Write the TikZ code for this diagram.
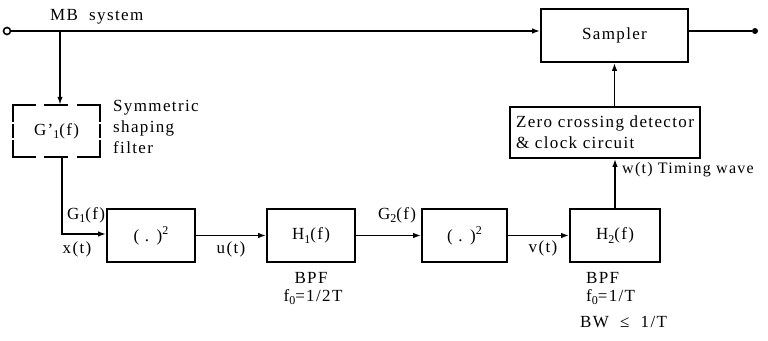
\documentclass[tikz,border=0pt]{standalone}
\usepackage{fontspec}
\setmainfont{Liberation Serif}[LetterSpace=8]
\usetikzlibrary{arrows.meta}
\newcommand\sbs[1]{\raisebox{-0.45ex}{\fontsize{12}{12}\selectfont #1}}
\newcommand\sps[1]{\raisebox{0.9ex}{\fontsize{12}{12}\selectfont #1}}
\begin{document}
\begin{tikzpicture}[x=1pt,y=-1pt,
  every node/.style={font=\fontsize{17}{21}\selectfont, inner sep=0pt},
  blk/.style={draw, line width=1.7pt, minimum height=53pt},
  wire/.style={line width=1.6pt},
  arr/.style={wire, -{Latex[length=8pt,width=5.5pt]}},
  dsh/.style={line width=1.7pt, line cap=rect}]
\useasboundingbox (0,0) rectangle (768,340);
% blocks
\node[blk, minimum width=147pt] (smp) at (614.5,35.5) {Sampler};
\node[blk, minimum width=190pt, minimum height=51pt, align=left] (zcd) at (605,132.5)
  {Zero crossing detector\\\& clock circuit};
\node[minimum width=87pt, minimum height=52pt] (gp) at (56.5,131) {G'\sbs{1}(f)};
\draw[dsh, dash pattern=on 22pt off 10.5pt] (gp.north west) -- (gp.north east);
\draw[dsh, dash pattern=on 22pt off 10.5pt] (gp.south west) -- (gp.south east);
\draw[dsh, dash pattern=on 16pt off 4pt on 12pt off 4pt] (gp.north west) -- (gp.south west);
\draw[dsh, dash pattern=on 16pt off 4pt on 12pt off 4pt] (gp.north east) -- (gp.south east);
\node[blk, minimum width=88pt] (sqa) at (151,235.5) {( . )\sps{2}};
\node[blk, minimum width=88pt] (ha) at (311,235.5) {H\sbs{1}(f)};
\node[blk, minimum width=85pt] (sqb) at (464.5,235.5) {( . )\sps{2}};
\node[blk, minimum width=90pt] (hb) at (615,235.5) {H\sbs{2}(f)};
% terminals
\node[draw, circle, line width=1.6pt, minimum size=7pt] (inp) at (7,31) {};
\node[fill, circle, minimum size=6pt] (outp) at (755,31) {};
\coordinate (br) at (60,31);
% connectors
\draw[arr] (inp.east) -- (smp.west |- inp);
\draw[arr] (br) -- (gp.north -| br);
\draw[wire] (smp.east |- outp) -- (outp);
\coordinate (bend) at (62,234);
\draw[arr] (gp.south -| bend) -- (bend) -- (sqa.west |- bend);
\draw[arr] (sqa.east) -- (ha.west);
\draw[arr] (ha.east) -- (sqb.west);
\draw[arr] (sqb.east) -- (hb.west);
\draw[arr] (hb.north) -- (zcd.south -| hb.north);
\draw[arr] (zcd.north -| smp.south) -- (smp.south);
% labels
\node[anchor=west] (mb) at (50,17) {MB\ \ system};
\node[anchor=north west, align=left] (sym) at (113,100) {Symmetric\\shaping\\filter};
\node (g1) at (86,215) {G\sbs{1}(f)};
\node (xt) at (77,249) {x(t)};
\node (ut) at (231,249) {u(t)};
\node (g2) at (397,215) {G\sbs{2}(f)};
\node (vt) at (543,248) {v(t)};
\node[anchor=west, font=\fontsize{16}{20}\selectfont] (wt) at (622,170) {w(t) Timing wave};
\node (bpfa) at (311,278) {BPF};
\node (fa) at (313,297) {f\sbs{0}=1/2T};
\node[anchor=west] (bpfb) at (586,278) {BPF};
\node[anchor=west] (fb) at (586,297) {f\sbs{0}=1/T};
\node[anchor=west] (bw) at (580,322) {BW\ \ ≤\ \ 1/T};
\end{tikzpicture}
\end{document}
